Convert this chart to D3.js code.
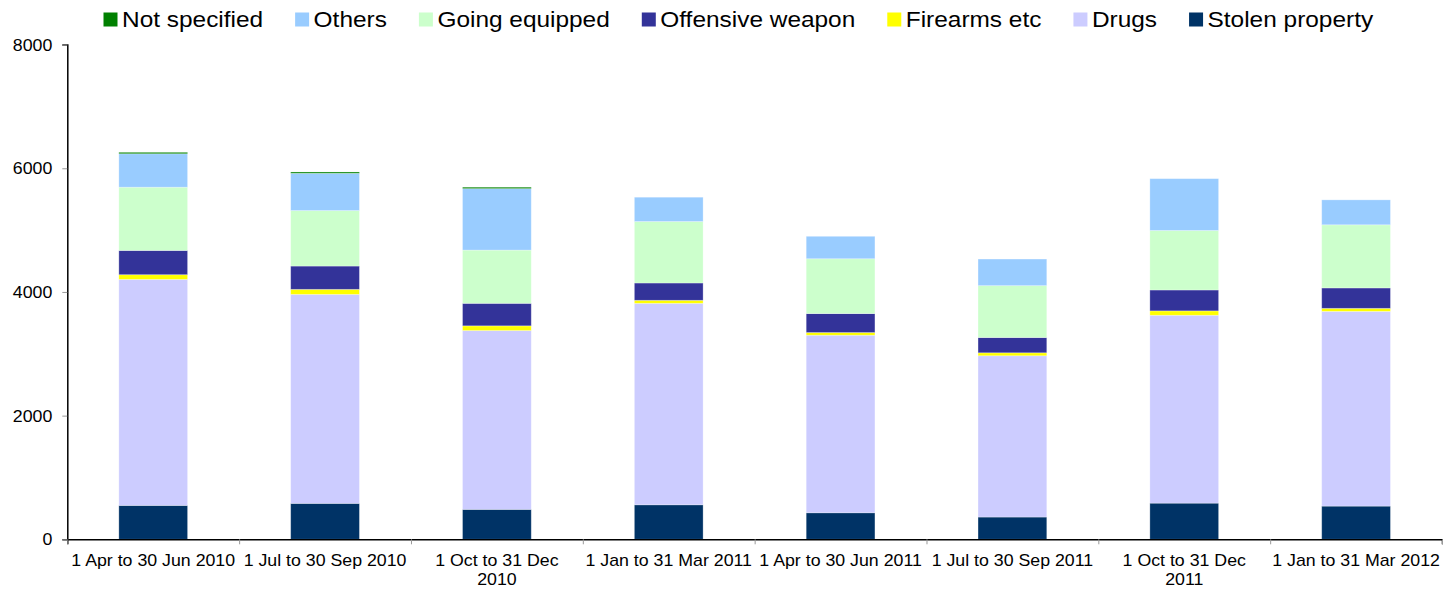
<!DOCTYPE html>
<html>
<head>
<meta charset="utf-8">
<script src="https://cdn.jsdelivr.net/npm/d3@7/dist/d3.min.js"></script>
<style>
  html, body { margin: 0; padding: 0; background: #fff; }
  svg { display: block; font-family: "Liberation Sans", Arial, sans-serif; }
</style>
</head>
<body>
<svg id="chart" width="1443" height="590"></svg>
<script>
// ---- data ----
const categories = [
  "1 Apr to 30 Jun 2010",
  "1 Jul to 30 Sep 2010",
  "1 Oct to 31 Dec\n2010",
  "1 Jan to 31 Mar 2011",
  "1 Apr to 30 Jun 2011",
  "1 Jul to 30 Sep 2011",
  "1 Oct to 31 Dec\n2011",
  "1 Jan to 31 Mar 2012"
];
const stolenProperty = [548, 581, 484, 558, 429, 360, 585, 537];
const drugs          = [3655, 3380, 2892, 3258, 2871, 2608, 3038, 3149];
const firearms       = [76, 81, 76, 49, 44, 48, 71, 49];
const offensiveWeapon= [392, 377, 364, 280, 306, 247, 338, 330];
const goingEquipped  = [1023, 897, 861, 994, 887, 839, 962, 1021];
const others         = [541, 603, 994, 393, 363, 430, 838, 403];
const notSpecified   = [23, 21, 23, 0, 0, 0, 0, 0];
const yTicks = [0, 2000, 4000, 6000, 8000];

const seriesNames = ["Stolen property", "Drugs", "Firearms etc", "Offensive weapon", "Going equipped", "Others", "Not specified"];
const seriesValues = [stolenProperty, drugs, firearms, offensiveWeapon, goingEquipped, others, notSpecified];
const seriesColors = ["#003366", "#ccccff", "#ffff00", "#333399", "#ccffcc", "#99ccff", "#008000"];
const legendOrder = ["Not specified", "Others", "Going equipped", "Offensive weapon", "Firearms etc", "Drugs", "Stolen property"];

// ---- layout ----
const SX = 1.11; // horizontal text stretch seen in reference
const plotLeft = 67.3, plotRight = 1442, plotTop = 44.6, plotBottom = 539.3;

const svg = d3.select("#chart");

const rows = categories.map((c, i) => {
  const o = { cat: c };
  seriesNames.forEach((s, k) => { o[s] = seriesValues[k][i]; });
  return o;
});
const stack = d3.stack().keys(seriesNames)(rows);
const color = d3.scaleOrdinal().domain(seriesNames).range(seriesColors);

const x = d3.scaleBand().domain(categories).range([plotLeft, plotRight]).paddingInner(0.6).paddingOuter(0.3);
const y = d3.scaleLinear().domain([0, 8000]).range([plotBottom, plotTop]);
const xEdges = d3.scaleLinear().domain([0, categories.length]).range([plotLeft, plotRight]);

// bars
const g = svg.append("g");
g.selectAll("g.series").data(stack).join("g")
  .attr("class", "series")
  .attr("fill", d => color(d.key))
  .selectAll("rect").data(d => d).join("rect")
  .attr("x", d => x(d.data.cat))
  .attr("width", x.bandwidth())
  .attr("y", d => y(d[1]))
  .attr("height", d => Math.max(0, y(d[0]) - y(d[1])))
  .attr("stroke", "rgba(255,255,255,0.35)")
  .attr("stroke-width", 0.8);

// y axis
const yAxis = svg.append("g")
  .attr("transform", `translate(${plotLeft},0)`)
  .call(d3.axisLeft(y).tickValues(yTicks).tickSize(5).tickFormat(d3.format("d")));
yAxis.select(".domain").attr("stroke", "#000").attr("stroke-width", 1.5);
yAxis.selectAll(".tick line").attr("stroke", "#999");
yAxis.selectAll(".tick text")
  .attr("x", -15 / SX)
  .attr("dy", "0.35em")
  .attr("transform", `scale(${SX},1)`)
  .style("font-size", "16px")
  .attr("fill", "#000")
  .attr("font-family", "Liberation Sans, Arial, sans-serif");

// x axis: boundary ticks
const xTickAxis = svg.append("g")
  .attr("transform", `translate(0,${plotBottom})`)
  .call(d3.axisBottom(xEdges).tickValues(d3.range(categories.length + 1)).tickSize(5).tickFormat(""));
xTickAxis.select(".domain").attr("stroke", "#000").attr("stroke-width", 1.5);
xTickAxis.selectAll(".tick line").attr("stroke", "#999");

// x axis: labels at band centers
const xLab = svg.append("g")
  .attr("transform", `translate(0,${plotBottom})`)
  .call(d3.axisBottom(x).tickSize(0).tickPadding(0));
xLab.select(".domain").remove();
xLab.selectAll(".tick text").each(function(d) {
  const t = d3.select(this);
  t.text(null)
   .attr("y", 0).attr("dy", null)
   .attr("transform", `scale(${SX},1)`)
   .attr("fill", "#000")
   .attr("font-family", "Liberation Sans, Arial, sans-serif")
   .style("font-size", "16px");
  d.split("\n").forEach((line, i) => {
    t.append("tspan").attr("x", 0).attr("y", 26.5 + i * 19).text(line);
  });
});

// legend
const legend = svg.append("g");
let lx = 103.5;
legendOrder.forEach(name => {
  const item = legend.append("g");
  item.append("rect")
    .attr("x", lx).attr("y", 12.5).attr("width", 14).attr("height", 14)
    .attr("fill", color(name));
  const tx = lx + 18.5;
  const txt = item.append("text")
    .attr("x", tx / SX).attr("y", 27.3)
    .attr("transform", `scale(${SX},1)`)
    .style("font-size", "22px")
    .attr("fill", "#000")
    .text(name);
  const w = txt.node().getComputedTextLength() * SX;
  lx = tx + w + 32;
});
</script>
</body>
</html>
